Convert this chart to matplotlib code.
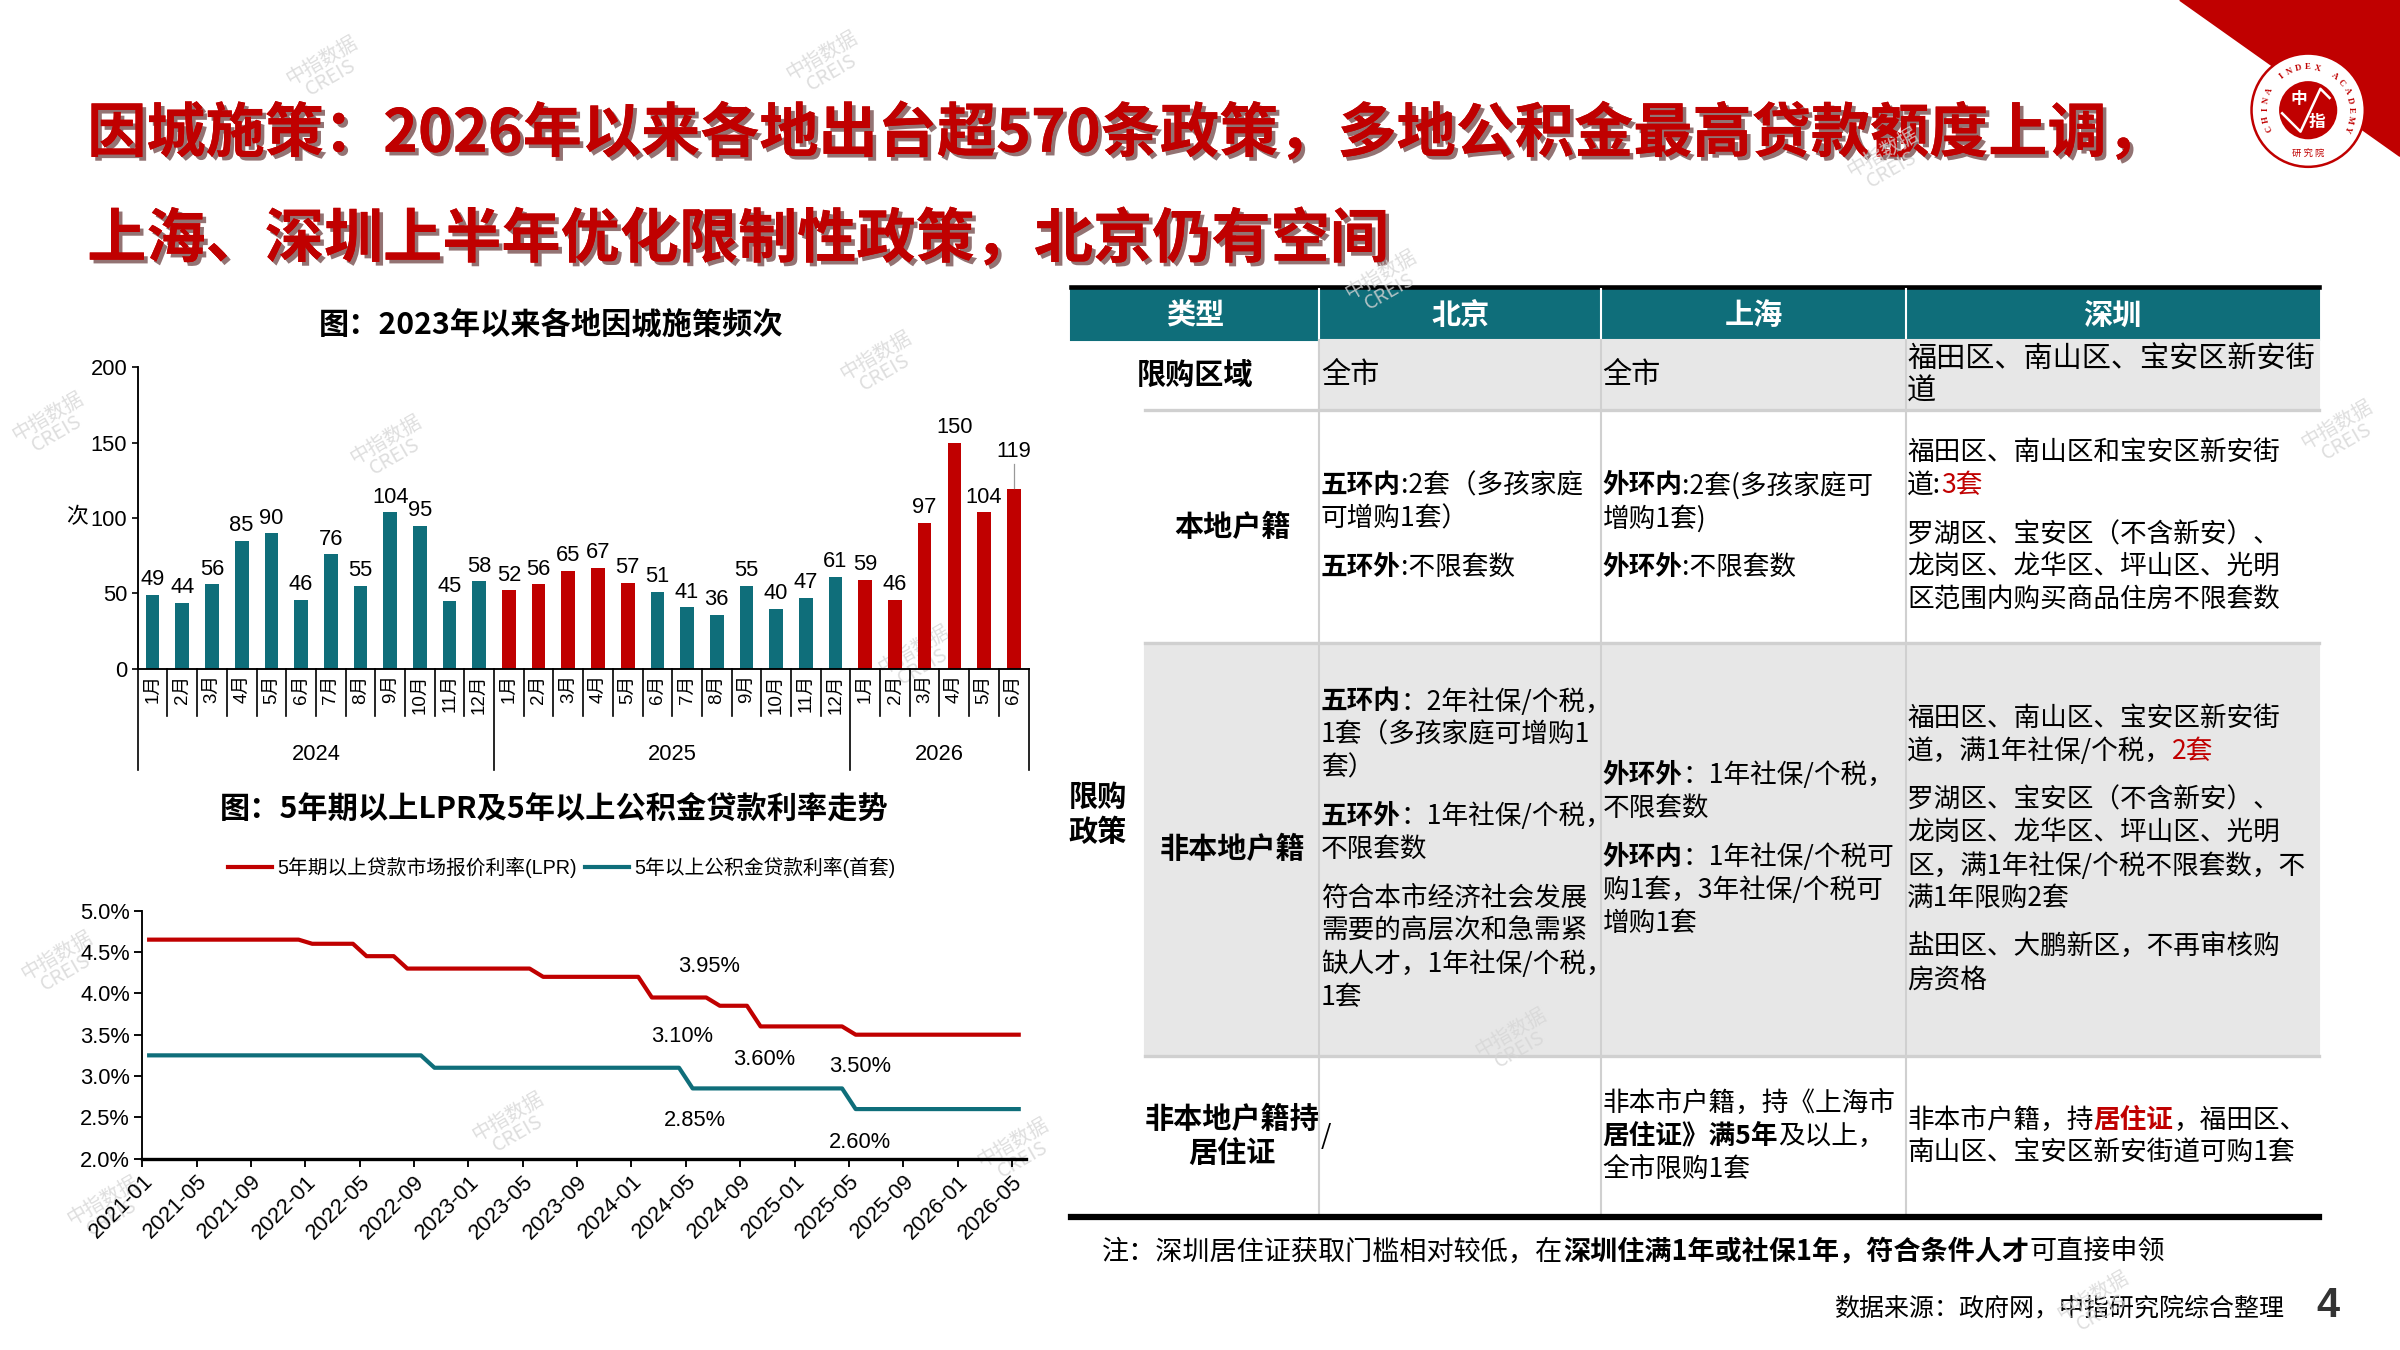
import matplotlib
matplotlib.use('Agg')
import matplotlib.pyplot as plt
import matplotlib.patheffects as pe
import matplotlib.transforms as mtrans
from matplotlib.patches import Rectangle, Polygon, Circle
from matplotlib import font_manager
import numpy as np

CJK = 'Noto Sans CJK SC'
_names = {f.name for f in font_manager.fontManager.ttflist}
NARROW = 'Liberation Sans Narrow' if 'Liberation Sans Narrow' in _names else 'Liberation Sans'
plt.rcParams['font.family'] = [CJK, 'DejaVu Sans']
NUM = [NARROW, CJK, 'DejaVu Sans']

RED = '#C00000'
TEAL = '#0F6E7A'
GREY = '#E7E7E7'
LINE = '#D0D0D0'

# ---- bar chart data: 因城施策频次 ----
months = ['1月', '2月', '3月', '4月', '5月', '6月', '7月', '8月', '9月', '10月', '11月', '12月']
years = ['2024', '2025', '2026']
counts_2024 = [49, 44, 56, 85, 90, 46, 76, 55, 104, 95, 45, 58]
counts_2025 = [52, 56, 65, 67, 57, 51, 41, 36, 55, 40, 47, 61]
counts_2026 = [59, 46, 97, 150, 104, 119]
bar_colors = [TEAL] * 12 + [RED] * 5 + [TEAL] * 7 + [RED] * 6

# ---- rate chart data, monthly 2021-01 .. 2026-05 ----
rate_ticks = ['2021-01', '2021-05', '2021-09', '2022-01', '2022-05', '2022-09',
              '2023-01', '2023-05', '2023-09', '2024-01', '2024-05', '2024-09',
              '2025-01', '2025-05', '2025-09', '2026-01', '2026-05']
lpr_5y = ([4.65] * 12                                   # 2021
          + [4.60] * 4 + [4.45] * 3 + [4.30] * 5        # 2022
          + [4.30] * 5 + [4.20] * 7                     # 2023
          + [4.20] + [3.95] * 5 + [3.85] * 3 + [3.60] * 3  # 2024
          + [3.60] * 4 + [3.50] * 8                     # 2025
          + [3.50] * 5)                                 # 2026
fund_5y = [3.25] * 21 + [3.10] * 19 + [2.85] * 12 + [2.60] * 13
rate_notes = ['3.95%', '3.10%', '3.60%', '3.50%', '2.85%', '2.60%']
lpr_name = '5年期以上贷款市场报价利率(LPR)'
fund_name = '5年以上公积金贷款利率(首套)'

# ---- table text ----
B, N = True, False
col_heads = ['类型', '北京', '上海', '深圳']
row_heads = ['限购区域', '本地户籍', '非本地户籍', '非本地户籍持\n居住证']
cells = [
    [  # 限购区域
        [[[('全市', N)]]],
        [[[('全市', N)]]],
        [[[('福田区、南山区、宝安区新安街', N)], [('道', N)]]],
    ],
    [  # 本地户籍
        [[[('五环内', B), (':2套（多孩家庭', N)], [('可增购1套）', N)]],
         [[('五环外', B), (':不限套数', N)]]],
        [[[('外环内', B), (':2套(多孩家庭可', N)], [('增购1套)', N)]],
         [[('外环外', B), (':不限套数', N)]]],
        [[[('福田区、南山区和宝安区新安街', N)], [('道:', N), ('3套', N, RED)]],
         [[('罗湖区、宝安区（不含新安）、', N)], [('龙岗区、龙华区、坪山区、光明', N)],
          [('区范围内购买商品住房不限套数', N)]]],
    ],
    [  # 非本地户籍
        [[[('五环内', B), ('：2年社保/个税，', N)], [('1套（多孩家庭可增购1', N)], [('套）', N)]],
         [[('五环外', B), ('：1年社保/个税，', N)], [('不限套数', N)]],
         [[('符合本市经济社会发展', N)], [('需要的高层次和急需紧', N)],
          [('缺人才，1年社保/个税，', N)], [('1套', N)]]],
        [[[('外环外', B), ('：1年社保/个税，', N)], [('不限套数', N)]],
         [[('外环内', B), ('：1年社保/个税可', N)], [('购1套，3年社保/个税可', N)], [('增购1套', N)]]],
        [[[('福田区、南山区、宝安区新安街', N)], [('道，满1年社保/个税，', N), ('2套', N, RED)]],
         [[('罗湖区、宝安区（不含新安）、', N)], [('龙岗区、龙华区、坪山区、光明', N)],
          [('区，满1年社保/个税不限套数，不', N)], [('满1年限购2套', N)]],
         [[('盐田区、大鹏新区，不再审核购', N)], [('房资格', N)]]],
    ],
    [  # 非本地户籍持居住证
        [[[('/', N)]]],
        [[[('非本市户籍，持《上海市', N)], [('居住证》满5年', B), ('及以上，', N)], [('全市限购1套', N)]]],
        [[[('非本市户籍，持', N), ('居住证', B, RED), ('，福田区、', N)], [('南山区、宝安区新安街道可购1套', N)]]],
    ],
]

# ---- figure, drawn on a 1568 x 882 layout grid ----
W, H = 1568, 882
fig = plt.figure(figsize=(16, 9), dpi=150)
bg = fig.add_axes([0, 0, 1, 1], zorder=0)
bg.set_xlim(0, W)
bg.set_ylim(H, 0)
bg.axis('off')
renderer = fig.canvas.get_renderer()
SX = W / (16 * 150)


def put_line(x, y, segs, size=13):
    for seg in segs:
        txt, bold = seg[0], seg[1]
        color = seg[2] if len(seg) > 2 else 'black'
        t = bg.text(x, y, txt, fontsize=size, fontweight='bold' if bold else 'normal',
                    color=color, ha='left', va='center')
        x += t.get_window_extent(renderer).width * SX


def put_cell(x, yc, paras, size=13, lh=21.5, gap=10.5):
    nlines = sum(len(p) for p in paras)
    total = (nlines - 1) * lh + (len(paras) - 1) * gap
    y = yc - total / 2
    for p in paras:
        for line in p:
            put_line(x, y, line, size)
            y += lh
        y += gap


# main title with shadow
shadow = [pe.withSimplePatchShadow(offset=(1.8, -1.8), shadow_rgbFace='#3a0000', alpha=0.55), pe.Normal()]
bg.text(57, 88, '因城施策：2026年以来各地出台超570条政策，多地公积金最高贷款额度上调，',
        fontsize=28.4, fontweight='heavy', color=RED, va='center', ha='left', path_effects=shadow)
bg.text(57, 157, '上海、深圳上半年优化限制性政策，北京仍有空间',
        fontsize=28.4, fontweight='heavy', color=RED, va='center', ha='left', path_effects=shadow)

# logo corner
bg.add_patch(Polygon([(1424, 0), (W, 0), (W, 102)], closed=True, color=RED, zorder=1))
cx, cy = 1508, 72
bg.add_patch(Circle((cx, cy), 37, facecolor='white', edgecolor=RED, lw=1.2, zorder=2))
bg.add_patch(Circle((cx, cy), 19, facecolor=RED, edgecolor='none', zorder=3))
bg.plot([cx - 17, cx - 5, cx + 8, cx + 14], [cy + 2, cy + 14, cy - 14, cy - 8], color='white', lw=1.2, zorder=4)
bg.text(cx - 6, cy - 7, '中', color='white', fontsize=8, fontweight='bold', ha='center', va='center', zorder=5)
bg.text(cx + 6, cy + 8, '指', color='white', fontsize=8, fontweight='bold', ha='center', va='center', zorder=5)
ring = 'CHINA INDEX ACADEMY'
for k, ch in enumerate(ring):
    ang = np.deg2rad(205 - k * 230 / (len(ring) - 1))
    bg.text(cx + 28 * np.cos(ang), cy - 28 * np.sin(ang), ch, fontsize=4.2, color=RED,
            family='Liberation Serif', fontweight='bold', rotation=np.rad2deg(ang) - 90,
            ha='center', va='center', zorder=5)
bg.text(cx, cy + 28, '研 究 院', fontsize=4.5, color=RED, ha='center', va='center', zorder=5)

# ---- bar chart ----
bg.text(360, 212, '图：2023年以来各地因城施策频次', fontsize=14.5, fontweight='bold', ha='center', va='center')
counts = counts_2024 + counts_2025 + counts_2026
n = len(counts)
xb = np.arange(n)
axb = fig.add_axes([90 / W, 1 - 437 / H, 582 / W, 197 / H], zorder=2)
axb.set_facecolor('none')
axb.bar(xb, counts, width=0.46, color=bar_colors)
axb.set_xlim(-0.5, n - 0.5)
axb.set_ylim(0, 200)
axb.set_yticks(range(0, 201, 50))
axb.set_xticks([])
axb.spines[['top', 'right']].set_visible(False)
axb.spines['left'].set_linewidth(0.9)
axb.spines['bottom'].set_linewidth(0.9)
axb.tick_params(axis='y', length=3, width=0.8, labelsize=10.5, pad=2)
for lab in axb.get_yticklabels():
    lab.set_family(NUM)
for xi, v in zip(xb[:-1], counts[:-1]):
    axb.text(xi, v + 3, str(v), ha='center', va='bottom', fontsize=10.5, family=NUM)
axb.text(xb[-1], 137, str(counts[-1]), ha='center', va='bottom', fontsize=10.5, family=NUM)
axb.plot([xb[-1], xb[-1]], [136, counts[-1] + 1], color='#999999', lw=0.6)
axb.text(-0.068, 0.503, '次', transform=axb.transAxes, ha='center', va='center', fontsize=10.5)
tb = mtrans.blended_transform_factory(axb.transData, axb.transAxes)
for i in range(n):
    axb.text(i, -0.018, months[i % 12], transform=tb, rotation=90, ha='center', va='top',
             fontsize=9, family=NUM)
year_edges = [0, 12, 24, n]
for i in range(n + 1):
    low = -0.335 if i in year_edges else -0.157
    axb.plot([i - 0.5, i - 0.5], [0, low], transform=tb, clip_on=False, color='black', lw=0.8)
for yr, a, b in zip(years, year_edges[:-1], year_edges[1:]):
    axb.text((a + b - 1) / 2, -0.284, yr, transform=tb, ha='center', va='center', fontsize=10.5, family=NUM)

# ---- rate chart ----
bg.text(362, 528, '图：5年期以上LPR及5年以上公积金贷款利率走势', fontsize=14.5, fontweight='bold',
        ha='center', va='center')
axl = fig.add_axes([93 / W, 1 - 757 / H, 577 / W, 162 / H], zorder=2)
axl.set_facecolor('none')
xm = np.arange(len(lpr_5y)) + 0.5
axl.plot(xm, lpr_5y, color=RED, lw=2.0, label=lpr_name)
axl.plot(xm, fund_5y, color=TEAL, lw=2.0, label=fund_name)
axl.set_xlim(0, len(lpr_5y))
axl.set_ylim(2.0, 5.0)
axl.set_yticks(np.arange(2.0, 5.01, 0.5))
axl.set_yticklabels([f'{v:.1f}%' for v in np.arange(2.0, 5.01, 0.5)], family=NUM, fontsize=10.5)
axl.set_xticks(range(0, len(lpr_5y), 4))
axl.set_xticklabels(rate_ticks, rotation=45, ha='right', rotation_mode='anchor', family=NUM, fontsize=10.5)
axl.spines[['top', 'right']].set_visible(False)
axl.spines['left'].set_linewidth(0.9)
axl.spines['bottom'].set_linewidth(1.6)
axl.tick_params(axis='both', length=4, width=0.9, pad=2)
note_xy = [(41.7, 4.33), (39.7, 3.48), (45.8, 3.20), (52.8, 3.11), (40.7, 2.46), (52.8, 2.20)]
for lab, (px, py) in zip(rate_notes, note_xy):
    axl.text(px, py, lab, ha='center', va='center', fontsize=10.5, family=NUM)
axl.legend(loc='center', bbox_to_anchor=(0.475, 1.173), ncol=2, frameon=False,
           prop={'family': NUM, 'size': 9.5}, handlelength=2.2, columnspacing=0.4, handletextpad=0.3)

# ---- policy table ----
cols = [700, 862, 1046, 1245, 1515]
rows = [222, 268, 420, 690, 795]
bg.add_patch(Rectangle((700, 189), 815, 33, color=TEAL, zorder=1))
bg.plot([700, 1515], [187.5, 187.5], color='black', lw=2.2, zorder=2)
bg.add_patch(Rectangle((862, 222), 653, 46, color=GREY, zorder=1))
bg.add_patch(Rectangle((748, 420), 767, 270, color=GREY, zorder=1))
for xc in cols[1:4]:
    bg.plot([xc, xc], [189, 222], color='white', lw=1, zorder=2)
    bg.plot([xc, xc], [222, 795], color=LINE, lw=1, zorder=2)
for yr in rows[1:4]:
    bg.plot([748, 1515], [yr, yr], color=LINE, lw=1.6, zorder=2)
bg.plot([700, 1515], [795, 795], color='black', lw=3, zorder=2)
head_x = [781, 954, 1146, 1380]
for hx, h in zip(head_x, col_heads):
    bg.text(hx, 206, h, color='white', fontsize=14, fontweight='bold', ha='center', va='center', zorder=3)
label_x = [781, 805, 805, 805]
for r, (lx, lab) in enumerate(zip(label_x, row_heads)):
    bg.text(lx, (rows[r] + rows[r + 1]) / 2, lab, fontsize=14, fontweight='bold', ha='center',
            va='center', linespacing=1.2)
bg.text(717, 532, '限购\n政策', fontsize=14, fontweight='bold', ha='center', va='center', linespacing=1.2)
for r, row in enumerate(cells):
    yc = (rows[r] + rows[r + 1]) / 2
    for c, paras in enumerate(row):
        put_cell(cols[c + 1] + 1, yc, paras, size=14 if r == 0 else 12.8)

put_line(720, 818, [('注：深圳居住证获取门槛相对较低，在', N), ('深圳住满1年或社保1年，符合条件人才', B),
                    ('可直接申领', N)], size=13)
bg.text(1492, 855, '数据来源：政府网，中指研究院综合整理', fontsize=12, ha='right', va='center')
bg.text(1521, 853, '4', fontsize=20, fontweight='bold', color='#333333', ha='center', va='center',
        family=NUM)

# faint watermarks
marks = [(213, 45), (540, 42), (575, 238), (255, 293), (905, 185), (1530, 283), (1233, 105),
         (1370, 852), (40, 630), (335, 735), (665, 752), (990, 680), (70, 790), (600, 430), (34, 278)]
for mx, my in marks:
    bg.text(mx, my, '中指数据\nCREIS', fontsize=9.5, color='#d6d6d6', rotation=30, ha='center',
            va='center', style='italic', linespacing=0.9, alpha=0.8, zorder=6)

fig.savefig('out.png', dpi=150)
